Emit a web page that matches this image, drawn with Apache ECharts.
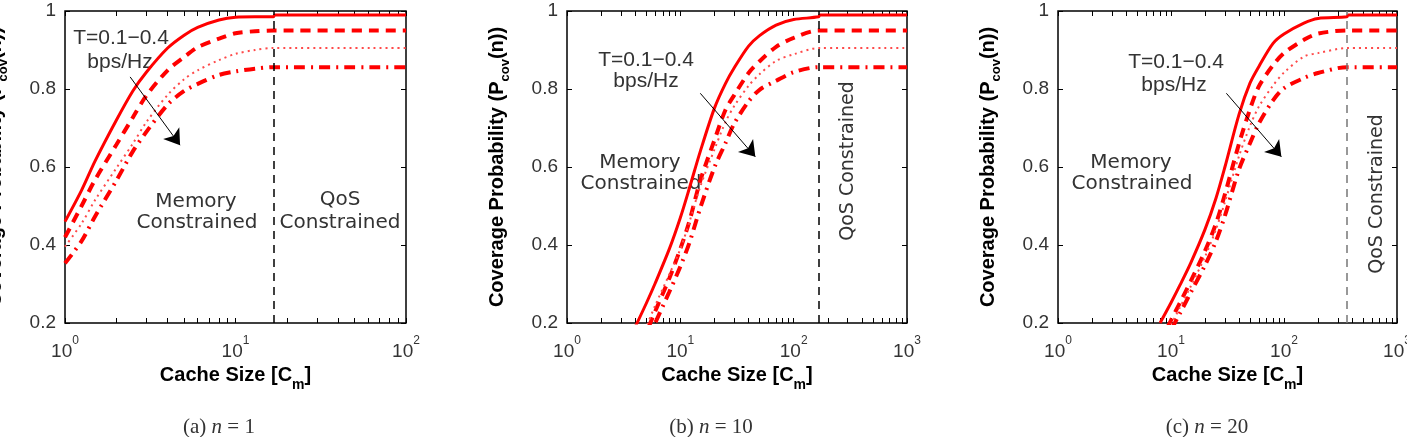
<!DOCTYPE html>
<html>
<head>
<meta charset="utf-8">
<script src="https://cdn.jsdelivr.net/npm/echarts@6.0.0/dist/echarts.min.js"></script>
<style>
  html, body { margin: 0; padding: 0; background: #fff; }
  #main { width: 1407px; height: 437px; }
</style>
</head>
<body>
<div id="main"></div>
<script>
// cache sizes (x) and coverage probability for T = 0.1, 0.2, 0.3, 0.4 bps/Hz
const aX = [1, 1.25, 1.5, 2, 2.5, 3, 4, 5, 6, 8, 10, 13, 16.7, 17, 100]
const aSolid = [0.46, 0.54, 0.615, 0.72, 0.795, 0.843, 0.905, 0.938, 0.958, 0.977, 0.984, 0.985, 0.985, 0.99, 0.99]
const aDashed = [0.42, 0.5, 0.567, 0.657, 0.727, 0.783, 0.848, 0.882, 0.907, 0.929, 0.943, 0.948, 0.95, 0.95, 0.95]
const aDotted = [0.396, 0.455, 0.515, 0.597, 0.66, 0.715, 0.785, 0.825, 0.848, 0.874, 0.89, 0.9, 0.905, 0.905, 0.905]
const aDashDot = [0.353, 0.41, 0.473, 0.565, 0.64, 0.69, 0.76, 0.795, 0.813, 0.836, 0.845, 0.852, 0.856, 0.856, 0.856]

const bX = [4, 5, 6, 8, 10, 12, 15, 20, 25, 30, 40, 50, 70, 100, 166, 170, 1000]
const bSolid = [0.19, 0.25, 0.302, 0.39, 0.47, 0.545, 0.64, 0.751, 0.814, 0.855, 0.91, 0.937, 0.964, 0.978, 0.985, 0.99, 0.99]
const bDashed = [0.11, 0.175, 0.23, 0.315, 0.39, 0.46, 0.565, 0.669, 0.746, 0.785, 0.841, 0.871, 0.908, 0.931, 0.95, 0.95, 0.95]
const bDotted = [0.125, 0.19, 0.245, 0.325, 0.39, 0.458, 0.55, 0.645, 0.715, 0.757, 0.808, 0.838, 0.872, 0.889, 0.905, 0.905, 0.905]
const bDashDot = [0.085, 0.148, 0.2, 0.28, 0.345, 0.405, 0.495, 0.599, 0.661, 0.712, 0.768, 0.798, 0.821, 0.843, 0.856, 0.856, 0.856]

const cX = [8, 10, 12, 15, 20, 25, 30, 40, 50, 60, 80, 100, 150, 200, 360, 370, 1000]
const cSolid = [0.2, 0.252, 0.297, 0.355, 0.44, 0.52, 0.6, 0.735, 0.815, 0.858, 0.917, 0.941, 0.969, 0.981, 0.985, 0.99, 0.99]
const cDashed = [0.15, 0.207, 0.252, 0.308, 0.385, 0.455, 0.53, 0.66, 0.748, 0.807, 0.861, 0.892, 0.926, 0.942, 0.95, 0.95, 0.95]
const cDotted = [0.14, 0.195, 0.24, 0.295, 0.37, 0.44, 0.51, 0.628, 0.705, 0.755, 0.809, 0.842, 0.883, 0.892, 0.905, 0.905, 0.905]
const cDashDot = [0.128, 0.182, 0.225, 0.279, 0.348, 0.41, 0.475, 0.594, 0.661, 0.712, 0.771, 0.802, 0.828, 0.841, 0.856, 0.856, 0.856]

// memory / QoS boundary and the "T increases" arrow (data coords)
const limits = [16.7, 166, 360]
const arrows = [
  [[2.41, 0.831], [4.73, 0.656]],
  [[15.0, 0.789], [45.9, 0.626]],
  [[30.9, 0.789], [94.8, 0.626]]
]
const xMaxes = [100, 1000, 1000]
const yTicks = [0.2, 0.4, 0.6, 0.8, 1]
const captions = ['(a) ', '(b) ', '(c) ']
const captionN = ['1', '10', '20']

const SANS = 'Liberation Sans'
const ANNO = 'DejaVu Sans'

const grids = [
  { left: 65, top: 11, width: 341, height: 312 },
  { left: 567, top: 11, width: 340, height: 312 },
  { left: 1058, top: 11, width: 339, height: 312 }
]

const curveStyles = [
  { type: 'solid', width: 3, color: '#ff0000' },
  { type: [10, 7], width: 4, color: '#ff0000' },
  { type: [2, 4], width: 2, color: '#ff4a4a' },
  { type: [11, 6, 2, 6], width: 4, color: '#ff0000' }
]

function logTicks(max) {
  const out = []
  for (let d = 1; d < max; d *= 10) {
    for (let k = 1; k < 10; k++) out.push(d * k)
  }
  out.push(max)
  return out
}

function decades(max) {
  const out = []
  for (let d = 1; d <= max; d *= 10) out.push(d)
  return out
}

function initAxes() {
  const xAxis = []
  const yAxis = []
  grids.forEach((g, i) => {
    const max = xMaxes[i]
    const tickStyle = { inside: true, length: 5, customValues: logTicks(max), lineStyle: { color: '#000', width: 1 } }
    xAxis.push({
      gridIndex: i,
      type: 'log',
      logBase: 10,
      min: 1,
      max: max,
      position: 'bottom',
      axisLine: { show: false },
      axisTick: tickStyle,
      splitLine: { show: false },
      axisLabel: {
        customValues: decades(max),
        margin: 12,
        hideOverlap: false,
        formatter: v => '{b|10}{s|' + Math.round(Math.log10(v)) + '}',
        rich: {
          b: { fontSize: 19, fontFamily: SANS, color: '#333', verticalAlign: 'bottom', lineHeight: 26 },
          s: { fontSize: 12, fontFamily: SANS, color: '#333', verticalAlign: 'top', lineHeight: 26 }
        }
      },
      name: '{n|Cache Size [C}{s|m}{n|]}',
      nameLocation: 'middle',
      nameGap: 40,
      nameTextStyle: {
        rich: {
          n: { fontSize: 20, fontWeight: 'bold', fontFamily: SANS, color: '#000', verticalAlign: 'top', lineHeight: 26 },
          s: { fontSize: 14, fontWeight: 'bold', fontFamily: SANS, color: '#000', verticalAlign: 'bottom', lineHeight: 26 }
        }
      }
    })
    xAxis.push({
      gridIndex: i,
      type: 'log',
      logBase: 10,
      min: 1,
      max: max,
      position: 'top',
      axisLine: { show: false },
      axisTick: tickStyle,
      axisLabel: { show: false },
      splitLine: { show: false }
    })
    const yTick = { inside: true, length: 5, customValues: yTicks, lineStyle: { color: '#000', width: 1 } }
    yAxis.push({
      gridIndex: i,
      type: 'value',
      min: 0.2,
      max: 1,
      interval: 0.2,
      position: 'left',
      axisLine: { show: false },
      axisTick: yTick,
      splitLine: { show: false },
      axisLabel: { fontSize: 19, fontFamily: SANS, color: '#333', margin: 9 },
      name: '{n|Coverage Probability (P}{s|cov}{n|(n))}',
      nameLocation: 'middle',
      nameRotate: 90,
      nameGap: 55,
      nameTextStyle: {
        rich: {
          n: { fontSize: 20, fontWeight: 'bold', fontFamily: SANS, color: '#000', verticalAlign: 'top', lineHeight: 25 },
          s: { fontSize: 13, fontWeight: 'bold', fontFamily: SANS, color: '#000', verticalAlign: 'bottom', lineHeight: 25 }
        }
      }
    })
    yAxis.push({
      gridIndex: i,
      type: 'value',
      min: 0.2,
      max: 1,
      interval: 0.2,
      position: 'right',
      axisLine: { show: false },
      axisTick: yTick,
      axisLabel: { show: false },
      splitLine: { show: false }
    })
  })
  return { xAxis, yAxis }
}

function initSeries() {
  const panels = [
    { xs: aX, curves: [aSolid, aDashed, aDotted, aDashDot] },
    { xs: bX, curves: [bSolid, bDashed, bDotted, bDashDot] },
    { xs: cX, curves: [cSolid, cDashed, cDotted, cDashDot] }
  ]
  const series = []
  panels.forEach((p, i) => {
    p.curves.forEach((ys, k) => {
      const s = {
        type: 'line',
        xAxisIndex: 2 * i,
        yAxisIndex: 2 * i,
        data: p.xs.map((x, j) => [x, ys[j]]),
        showSymbol: false,
        smooth: 0.3,
        clip: true,
        lineStyle: curveStyles[k],
        itemStyle: { color: curveStyles[k].color },
        silent: true
      }
      if (k === 0) {
        s.markLine = {
          silent: true,
          symbol: 'none',
          label: { show: false },
          lineStyle: { color: i === 2 ? '#777' : '#000', type: [8, 6], width: 1.5 },
          data: [{ xAxis: limits[i] }]
        }
      }
      if (k === 1) {
        s.markLine = {
          silent: true,
          symbol: ['none', 'arrow'],
          symbolSize: 15,
          label: { show: false },
          lineStyle: { color: '#000', type: 'solid', width: 1 },
          data: [[{ coord: arrows[i][0] }, { coord: arrows[i][1] }]]
        }
      }
      series.push(s)
    })
  })
  return series
}

function textEl(x, y, text, opts) {
  return Object.assign({
    type: 'text',
    x: x,
    y: y,
    silent: true,
    style: Object.assign({
      text: text,
      fontSize: 20,
      fontFamily: ANNO,
      fill: '#333',
      align: 'center',
      verticalAlign: 'middle'
    }, opts && opts.style)
  }, opts && opts.el)
}

function initGraphic() {
  const els = []
  // T label
  const tPos = [[121, 38, 120, 62], [646, 60, 646, 81], [1176, 62, 1174, 85]]
  tPos.forEach(p => {
    els.push(textEl(p[0], p[1], 'T=0.1\u22120.4', { style: { fontFamily: SANS, fontSize: 21 } }))
    els.push(textEl(p[2], p[3], 'bps/Hz', { style: { fontFamily: SANS, fontSize: 21 } }))
  })
  // memory constrained
  const mPos = [[196, 202, 197, 223], [640, 163, 641, 184], [1131, 163, 1132, 184]]
  mPos.forEach(p => {
    els.push(textEl(p[0], p[1], 'Memory'))
    els.push(textEl(p[2], p[3], 'Constrained'))
  })
  // QoS constrained
  els.push(textEl(340, 200, 'QoS'))
  els.push(textEl(340, 223, 'Constrained'))
  els.push(textEl(848, 161, 'QoS Constrained', { style: { fontSize: 19 }, el: { rotation: Math.PI / 2 } }))
  els.push(textEl(1377, 194, 'QoS Constrained', { style: { fontSize: 19 }, el: { rotation: Math.PI / 2 } }))
  // captions
  const capX = [219, 711, 1207]
  capX.forEach((x, i) => {
    els.push({
      type: 'text',
      x: x,
      y: 427,
      silent: true,
      style: {
        text: '{r|' + captions[i] + '}{i|n}{r| = ' + captionN[i] + '}',
        align: 'center',
        verticalAlign: 'middle',
        rich: {
          r: { fontSize: 21, fontFamily: 'Liberation Serif', fill: '#333' },
          i: { fontSize: 21, fontFamily: 'Liberation Serif', fontStyle: 'italic', fill: '#333' }
        }
      }
    })
  })
  return els
}

function initChart() {
  const chart = echarts.init(document.getElementById('main'))
  const axes = initAxes()
  const option = {
    animation: false,
    backgroundColor: '#fff',
    grid: grids.map(g => Object.assign({
      show: true,
      borderColor: '#000',
      borderWidth: 1.5,
      backgroundColor: '#fff',
      containLabel: false,
      outerBoundsMode: 'none'
    }, g)),
    xAxis: axes.xAxis,
    yAxis: axes.yAxis,
    series: initSeries(),
    graphic: initGraphic()
  }
  chart.setOption(option)
}

initChart()
</script>
</body>
</html>
